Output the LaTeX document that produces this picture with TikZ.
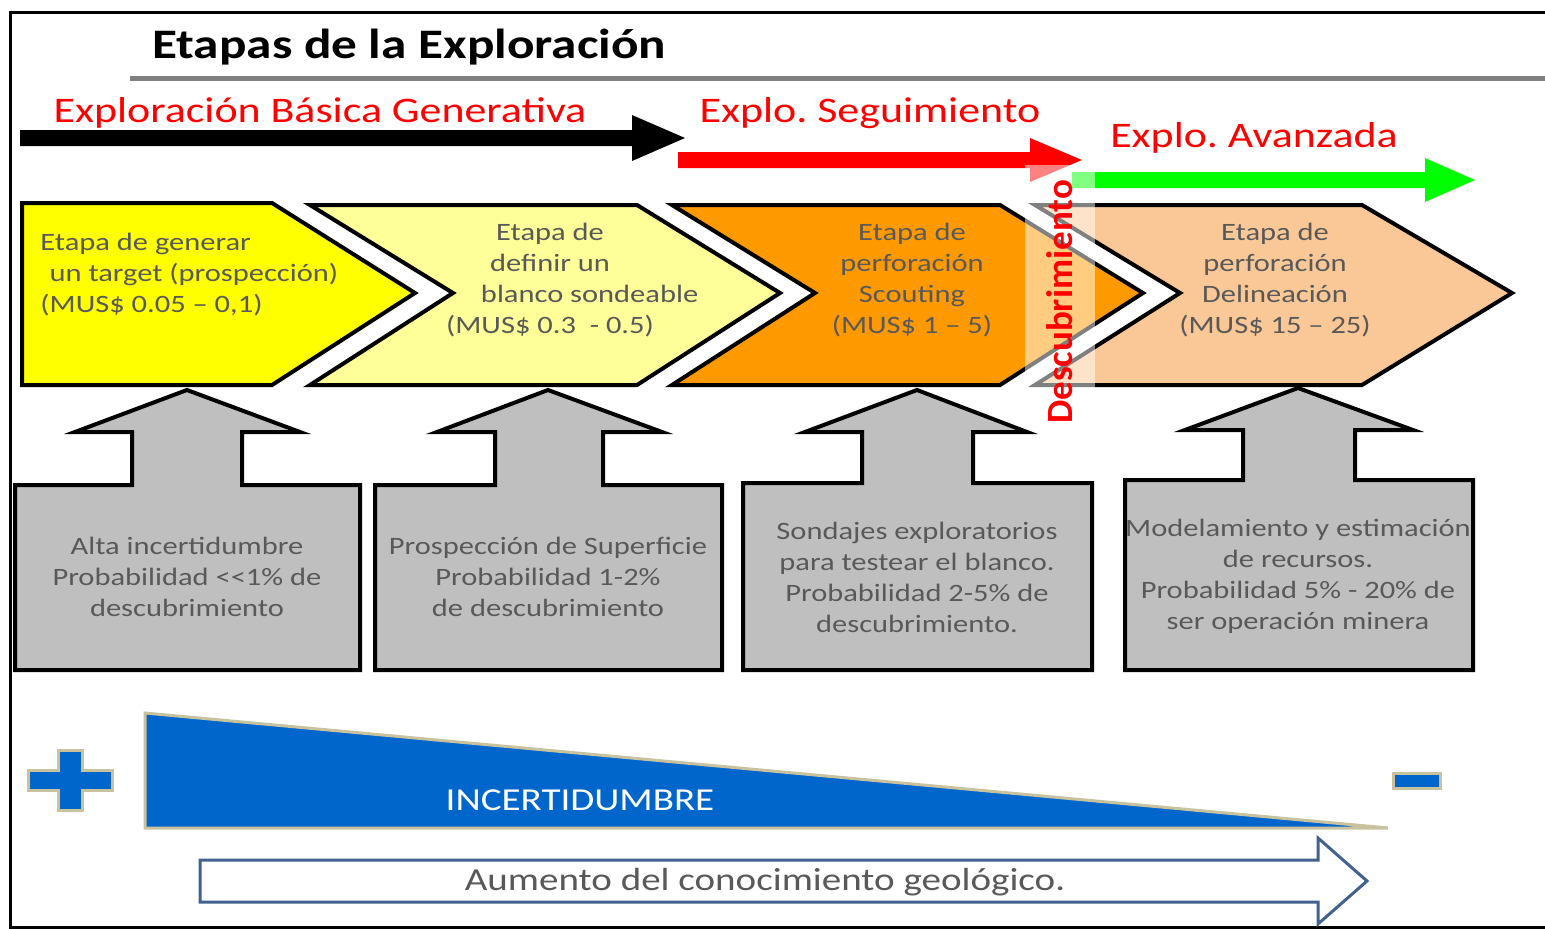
\documentclass[tikz,border=0pt]{standalone}
\usepackage{fontspec}
\setmainfont{Carlito}
\usetikzlibrary{positioning}
\definecolor{amarillo}{HTML}{FFFF00}
\definecolor{amarilloclaro}{HTML}{FFFF99}
\definecolor{naranjo}{HTML}{FF9900}
\definecolor{naranjoclaro}{HTML}{FAC896}
\definecolor{grisclaro}{HTML}{BFBFBF}
\definecolor{gristexto}{HTML}{595959}
\definecolor{azul}{HTML}{0066CC}
\definecolor{borde}{HTML}{C9C29E}
\definecolor{azulgris}{HTML}{41628F}
\definecolor{verde}{HTML}{00FF00}

\begin{document}
\begin{tikzpicture}[x=1pt,y=-1pt,line width=4pt,
    etapa/.style={draw=black,line width=4pt,line join=miter},
    caja/.style={draw=black,line width=4pt,line join=miter,fill=grisclaro},
    ancho/.style={xscale=1.22,inner sep=0pt},
    txt/.style={ancho,text=gristexto,font=\fontsize{25}{31}\selectfont,align=center},
    rojo/.style={ancho,text=red,font=\fontsize{36}{40}\selectfont}]
  \useasboundingbox (0,0) rectangle (1545,929);

  \draw[line width=3pt] (1545,12) -- (10,12) -- (10,927) -- (1545,927);
  \node[ancho,font=\fontsize{42}{46}\selectfont\bfseries,anchor=west] (titulo) at (150,47) {Etapas de la Exploración};
  \draw[gray,line width=5pt] (130,78) -- (1545,78);

  \node[rojo] (basica) at (320,113) {Exploración Básica Generativa};
  \node[rojo] (seguim) at (870,113) {Explo.\ Seguimiento};
  \node[rojo] (avanz)  at (1254,138) {Explo.\ Avanzada};

  \fill[black] (20,130) -- (632,130) -- (632,115) -- (685,138) -- (632,161) -- (632,146) -- (20,146) -- cycle;
  \fill[red] (678,152) -- (1030,152) -- (1030,138) -- (1082,160) -- (1030,182) -- (1030,168) -- (678,168) -- cycle;
  \fill[verde] (1072,172) -- (1425,172) -- (1425,158) -- (1475,180) -- (1425,202) -- (1425,188) -- (1072,188) -- cycle;

  \draw[etapa,fill=amarillo] (22,203) -- (272,203) -- (415,293) -- (272,385) -- (22,385) -- cycle;
  \draw[etapa,fill=amarilloclaro] (310,205) -- (637,205) -- (780,293) -- (637,385) -- (310,385) -- (453,293) -- cycle;
  \draw[etapa,fill=naranjo] (672,205) -- (1000,205) -- (1143,293) -- (1000,385) -- (672,385) -- (815,293) -- cycle;
  \draw[etapa,fill=naranjoclaro] (1035,205) -- (1362,205) -- (1512,293) -- (1362,385) -- (1035,385) -- (1180,293) -- cycle;

  \node[txt,align=left,anchor=west] (et1) at (38,275) {Etapa de generar\\\hspace{0.3em}un target (prospección)\\(MUS\$ 0.05 – 0,1)};
  \node[txt] (et2) at (550,280) {Etapa de\\definir un\\\hspace{2.6em}blanco sondeable\\(MUS\$ 0.3\ \ - 0.5)};
  \node[txt] (et3) at (912,280) {Etapa de\\perforación\\Scouting\\(MUS\$ 1 – 5)};
  \node[txt] (et4) at (1275,280) {Etapa de\\perforación\\Delineación\\(MUS\$ 15 – 25)};

  \fill[white,opacity=0.5] (1025,165) rectangle (1095,390);
  \node[text=red,font=\fontsize{37}{40}\selectfont\bfseries,rotate=90,inner sep=0pt] (descub) at (1060,302) {Descubrimiento};

  \draw[caja] (15,485) -- (132,485) -- (132,432) -- (75,432) -- (187,390) -- (300,432) -- (242,432) -- (242,485) -- (360,485) -- (360,670) -- (15,670) -- cycle;
  \draw[caja] (375,485) -- (495,485) -- (495,432) -- (437,432) -- (548,390) -- (662,432) -- (603,432) -- (603,485) -- (722,485) -- (722,670) -- (375,670) -- cycle;
  \draw[caja] (743,483) -- (862,483) -- (862,432) -- (805,432) -- (917,390) -- (1027,432) -- (973,432) -- (973,483) -- (1092,483) -- (1092,670) -- (743,670) -- cycle;
  \draw[caja] (1125,480) -- (1243,480) -- (1243,430) -- (1185,430) -- (1298,388) -- (1413,430) -- (1355,430) -- (1355,480) -- (1473,480) -- (1473,670) -- (1125,670) -- cycle;

  \node[txt] (c1) at (187,577) {Alta incertidumbre\\Probabilidad <{}<1\% de\\descubrimiento};
  \node[txt] (c2) at (548,577) {Prospección de Superficie\\Probabilidad 1-2\%\\de descubrimiento};
  \node[txt] (c3) at (917,577) {Sondajes exploratorios\\para testear el blanco.\\Probabilidad 2-5\% de\\descubrimiento.};
  \node[txt] (c4) at (1298,576) {Modelamiento y estimación\\de recursos.\\Probabilidad 5\% - 20\% de\\ser operación minera};

  \draw[borde,line width=3pt,fill=azul,line join=miter] (145,713) -- (1388,828) -- (145,828) -- cycle;
  \node[ancho,text=white,font=\fontsize{32}{34}\selectfont] (incert) at (580,800) {INCERTIDUMBRE};

  \draw[borde,line width=3pt,fill=azul] (28,770) -- (58,770) -- (58,750) -- (82,750) -- (82,770) -- (112,770) -- (112,790) -- (82,790) -- (82,810) -- (58,810) -- (58,790) -- (28,790) -- cycle;
  \draw[borde,line width=3pt,fill=azul] (1393,773) rectangle (1440,788);

  \draw[azulgris,line width=3pt,fill=white,line join=miter] (200,860) -- (1318,860) -- (1318,838) -- (1367,881) -- (1318,924) -- (1318,902) -- (200,902) -- cycle;
  \node[txt,font=\fontsize{32}{34}\selectfont] (conoc) at (765,882) {Aumento del conocimiento geológico.};
\end{tikzpicture}
\end{document}
